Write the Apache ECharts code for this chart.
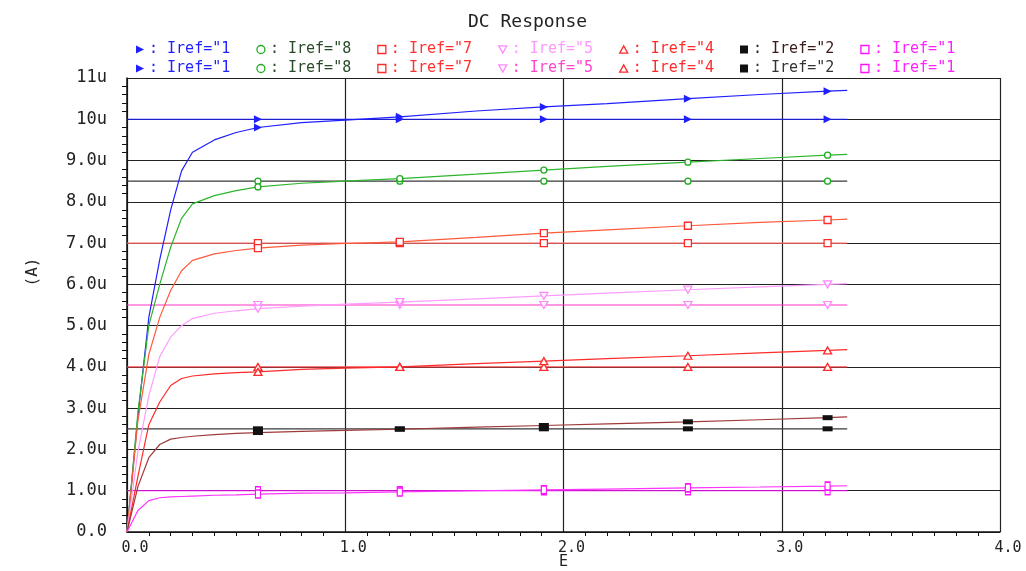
<!DOCTYPE html>
<html>
<head>
<meta charset="utf-8">
<script src="https://cdn.jsdelivr.net/npm/echarts@6/dist/echarts.min.js"></script>
<style>html,body{margin:0;padding:0;background:#fff}#c{width:1026px;height:571px}</style>
</head>
<body>
<div id="c"></div>
<script>
// ---- data (currents in uA, sweep variable E) ----
const sweepX = [0, 0.05, 0.1, 0.15, 0.2, 0.25, 0.3, 0.4, 0.5, 0.6, 0.8, 1.0, 1.25, 1.6, 1.91, 2.2, 2.57, 2.9, 3.21, 3.3];
const curve10 = [0, 2.8, 5.2, 6.6, 7.8, 8.75, 9.2, 9.5, 9.68, 9.8, 9.92, 9.98, 10.06, 10.2, 10.3, 10.38, 10.5, 10.6, 10.68, 10.7];
const curve85 = [0, 2.9, 5.0, 6.0, 6.9, 7.6, 7.95, 8.15, 8.27, 8.36, 8.45, 8.5, 8.56, 8.67, 8.77, 8.86, 8.96, 9.05, 9.13, 9.15];
const curve7  = [0, 2.7, 4.3, 5.2, 5.85, 6.33, 6.58, 6.74, 6.82, 6.88, 6.95, 6.99, 7.03, 7.14, 7.24, 7.32, 7.42, 7.5, 7.56, 7.58];
const curve55 = [0, 1.95, 3.3, 4.25, 4.72, 5.0, 5.17, 5.3, 5.36, 5.41, 5.47, 5.52, 5.57, 5.65, 5.72, 5.79, 5.87, 5.94, 6.0, 6.02];
const curve4  = [0, 1.35, 2.6, 3.15, 3.55, 3.72, 3.78, 3.83, 3.86, 3.88, 3.94, 3.97, 4.0, 4.08, 4.14, 4.2, 4.27, 4.34, 4.4, 4.42];
const curve25 = [0, 1.1, 1.8, 2.12, 2.25, 2.29, 2.32, 2.36, 2.39, 2.41, 2.44, 2.46, 2.49, 2.54, 2.58, 2.62, 2.67, 2.72, 2.77, 2.79];
const curve1  = [0, 0.52, 0.76, 0.83, 0.85, 0.86, 0.87, 0.89, 0.9, 0.92, 0.94, 0.95, 0.97, 1.0, 1.02, 1.04, 1.07, 1.09, 1.11, 1.12];
const flatX = [0, 0.6, 1.25, 1.91, 2.57, 3.21, 3.3];
const flatLevels = [10, 8.5, 7, 5.5, 4, 2.5, 1];
const markerX = [0.6, 1.25, 1.91, 2.57, 3.21];
const legendLabels = ['Iref="1', 'Iref="8', 'Iref="7', 'Iref="5', 'Iref="4', 'Iref="2', 'Iref="1'];
const xTickLabels = ['0.0', '1.0', '2.0', '3.0', '4.0'];
const yTickLabels = ['0.0', '1.0u', '2.0u', '3.0u', '4.0u', '5.0u', '6.0u', '7.0u', '8.0u', '9.0u', '10u', '11u'];

// ---- styles ----
const FONT = 'DejaVu Sans Mono';
const curveData = [curve10, curve85, curve7, curve55, curve4, curve25, curve1];
const curveColors = ['#1f1fff', '#2db52d', '#ff5a3a', '#ff9cff', '#ff2a2a', '#a03a3a', '#ff33ff'];
const flatColors  = ['#1f1fff', '#3a3a3a', '#ff6a6a', '#ff33c8', '#ff4a4a', '#3a3a3a', '#ff10ff'];
const markColors  = ['#1f1fff', '#22aa22', '#ff2a2a', '#ff88ff', '#ff2a2a', '#111111', '#ff10ff'];
const legendText1 = ['#1f1fff', '#2a4a2a', '#ff3030', '#ff99ff', '#ff2a2a', '#3a1a1a', '#ff22ff'];
const legendText2 = ['#1f1fff', '#2a4a2a', '#ff3030', '#ff44cc', '#ff2a2a', '#333333', '#ff22ff'];
const TRI_R = 'path://M0,0L10,5L0,10Z';
const TRI_UP = 'path://M5,0L10,9L0,9Z';
const TRI_DN = 'path://M0,0L10,0L5,9Z';
const symbols = [TRI_R, 'circle', 'rect', TRI_DN, TRI_UP, 'rect', 'rect'];
const hollow  = [false, true, true, true, true, false, true];
const symSize = [[8, 8], [6, 6], [7, 7], [8, 7], [8, 7], [10, 5], [5, 8]];

function mkSymSize(k) {
  return function (v) { return markerX.indexOf(v[0]) >= 0 ? symSize[k] : 0; };
}
function markStyle(k) {
  return hollow[k]
    ? { color: '#fff', borderColor: markColors[k], borderWidth: 1.3 }
    : { color: markColors[k], borderColor: markColors[k], borderWidth: 0 };
}

const series = [];
const names1 = [], names2 = [], labelMap = {};
for (let k = 0; k < 7; k++) {
  const nf = 'flat' + k;
  names2.push(nf); labelMap[nf] = legendLabels[k];
  series.push({
    name: nf, type: 'line', data: flatX.map(x => [x, flatLevels[k]]),
    symbol: symbols[k], symbolSize: mkSymSize(k),
    lineStyle: { color: flatColors[k], width: 1.2 },
    itemStyle: markStyle(k),
    emphasis: { disabled: true }, z: 3
  });
}
for (let k = 0; k < 7; k++) {
  const nc = 'curve' + k;
  names1.push(nc); labelMap[nc] = legendLabels[k];
  series.push({
    name: nc, type: 'line', data: sweepX.map((x, i) => [x, curveData[k][i]]),
    symbol: symbols[k], symbolSize: mkSymSize(k),
    lineStyle: { color: curveColors[k], width: 1.2 },
    itemStyle: markStyle(k),
    emphasis: { disabled: true }, z: 4
  });
}

function legendOf(names, top, textColors) {
  return {
    top: top, left: 131, orient: 'horizontal', itemGap: 26, itemWidth: 8, itemHeight: 8,
    selectedMode: false,
    formatter: n => ': ' + labelMap[n],
    textStyle: { fontFamily: FONT, fontSize: 15 },
    data: names.map((n, k) => ({
      name: n, icon: symbols[k],
      itemStyle: markStyle(k),
      textStyle: { color: textColors[k], fontFamily: FONT, fontSize: 15, letterSpacing: 1 }
    }))
  };
}

const chart = echarts.init(document.getElementById('c'), null, { renderer: 'canvas' });
chart.setOption({
  animation: false,
  backgroundColor: '#fff',
  title: {
    text: 'DC Response', left: 463, top: 8,
    textStyle: { fontFamily: FONT, fontSize: 18, fontWeight: 'normal', color: '#222', letterSpacing: 1 }
  },
  legend: [legendOf(names1, 37, legendText1), legendOf(names2, 56, legendText2)],
  grid: { left: 127, right: 26, top: 78, bottom: 39, containLabel: false, outerBoundsMode: 'none' },
  xAxis: {
    type: 'value', min: 0, max: 4, interval: 1,
    name: 'E', nameLocation: 'middle', nameGap: 23, nameMoveOverlap: false,
    nameTextStyle: { fontFamily: FONT, fontSize: 15, color: '#222' },
    axisLine: { show: true, lineStyle: { color: '#111', width: 1.5 } },
    axisTick: { show: false },
    minorTick: { show: true, splitNumber: 10, length: 4, lineStyle: { color: '#111' } },
    axisLabel: {
      fontFamily: FONT, fontSize: 15, color: '#222', margin: 9, padding: [0, 0, 0, 16],
      formatter: v => xTickLabels[Math.round(v)]
    },
    splitLine: { show: true, lineStyle: { color: '#222', width: 1.2 } }
  },
  yAxis: {
    type: 'value', min: 0, max: 11, interval: 1,
    name: '(A)', nameLocation: 'middle', nameGap: 86, nameRotate: 90, nameMoveOverlap: false,
    nameTextStyle: { fontFamily: FONT, fontSize: 16, color: '#222', padding: [0, 0, 0, 66] },
    axisLine: { show: true, lineStyle: { color: '#111', width: 1.5 } },
    axisTick: { show: false },
    minorTick: { show: true, splitNumber: 5, length: 5, lineStyle: { color: '#111' } },
    axisLabel: {
      fontFamily: FONT, fontSize: 17, color: '#222', margin: 20, letterSpacing: 2.5,
      formatter: v => yTickLabels[Math.round(v)]
    },
    splitLine: { show: true, lineStyle: { color: '#222', width: 1.2 } }
  },
  series: series
});
</script>
</body>
</html>
